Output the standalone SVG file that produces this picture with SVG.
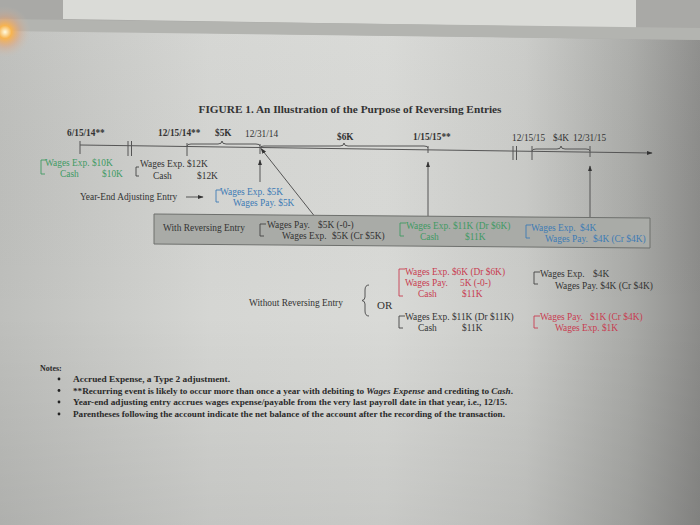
<svg xmlns="http://www.w3.org/2000/svg" width="700" height="525" viewBox="0 0 700 525">
<defs>
<linearGradient id="pageH" x1="0" y1="0" x2="1" y2="0">
<stop offset="0" stop-color="#bebfbc"/>
<stop offset="0.3" stop-color="#d5d6d3"/>
<stop offset="0.55" stop-color="#d9dad7"/>
<stop offset="0.75" stop-color="#cacbc8"/>
<stop offset="0.9" stop-color="#aaaba8"/>
<stop offset="1" stop-color="#8c8c8a"/>
</linearGradient>
<linearGradient id="pageV" x1="0" y1="0" x2="0" y2="1">
<stop offset="0" stop-color="#ffffff" stop-opacity="0.05"/>
<stop offset="0.6" stop-color="#000000" stop-opacity="0"/>
<stop offset="1" stop-color="#000000" stop-opacity="0.08"/>
</linearGradient>
<radialGradient id="glow" cx="0.5" cy="0.5" r="0.5">
<stop offset="0" stop-color="#fffbe0"/>
<stop offset="0.25" stop-color="#f7b450"/>
<stop offset="0.6" stop-color="#e8a070" stop-opacity="0.35"/>
<stop offset="1" stop-color="#d0c0b0" stop-opacity="0"/>
</radialGradient>
<marker id="ah" viewBox="0 0 10 7" refX="9" refY="3.5" markerWidth="6" markerHeight="4.2" markerUnits="userSpaceOnUse" orient="auto">
<path d="M0,0 L10,3.5 L0,7 z" fill="#333"/>
</marker>
<style>
text{font-family:"Liberation Serif","Times New Roman",serif;fill:#333;font-size:9.4px}
.b{font-weight:bold}
.t{font-size:9.3px}
.g{fill:#3f9a63}
.bl{fill:#3d7bb5}
.r{fill:#c83c50}
.ln{stroke:#555;stroke-width:1;fill:none}
.br{fill:none;stroke-width:0.9}
.brk{stroke:#444}
.brg{stroke:#3f9a63}
.brb{stroke:#3d7bb5}
.brr{stroke:#c83c50}
.note{font-size:8px;font-weight:bold;fill:#2a2a2a}
</style>
</defs>

<!-- background photo -->
<rect x="0" y="0" width="700" height="525" fill="url(#pageH)"/>
<rect x="0" y="0" width="700" height="525" fill="url(#pageV)"/>
<polygon points="0,0 700,0 700,40 0,30" fill="#a9a9a6"/>
<polygon points="63,0 636,0 636,28 63,19" fill="#dadbd7"/>
<polygon points="0,19 700,28 700,40 0,31" fill="#b3b4b0"/>
<circle cx="5" cy="32" r="26" fill="url(#glow)"/>

<text x="350" y="113" text-anchor="middle" class="b" style="font-size:10.5px" textLength="303" lengthAdjust="spacingAndGlyphs">FIGURE 1. An Illustration of the Purpose of Reversing Entries</text>

<!-- connectors / timeline -->
<g id="connectors">
<line class="ln" x1="80" y1="145" x2="652" y2="153" marker-end="url(#ah)"/>
<line class="ln" x1="80" y1="141" x2="80" y2="154"/>
<line class="ln" x1="128" y1="141" x2="128" y2="156"/>
<line class="ln" x1="131.5" y1="141" x2="131.5" y2="156"/>
<line class="ln" x1="187" y1="143" x2="187" y2="156"/>
<line class="ln" x1="260" y1="144" x2="260" y2="154"/>
<line class="ln" x1="428" y1="146" x2="428" y2="153"/>
<line class="ln" x1="513" y1="146" x2="513" y2="160"/>
<line class="ln" x1="516.5" y1="146" x2="516.5" y2="160"/>
<line class="ln" x1="532" y1="146" x2="532" y2="160"/>
<line class="ln" x1="590" y1="146" x2="590" y2="157"/>
<path class="ln" d="M187,146 Q187,144 191,144 L218,144 Q222,144 222,141 Q222,144 226,144 L256,144 Q260,144 260,146"/>
<path class="ln" d="M260,148 Q260,146 264,146 L340,146 Q344,146 344,143 Q344,146 348,146 L424,146 Q428,146 428,148"/>
<path class="ln" d="M532,151 Q532,149 536,149 L557,149 Q561,149 561,146 Q561,149 565,149 L586,149 Q590,149 590,151"/>
<line class="ln" x1="260" y1="182" x2="260" y2="160" marker-end="url(#ah)"/>
<line class="ln" x1="428" y1="216" x2="428" y2="162" marker-end="url(#ah)"/>
<line class="ln" x1="590" y1="217.5" x2="590" y2="166" marker-end="url(#ah)"/>
<line class="ln" x1="314" y1="215.5" x2="261" y2="148.5" marker-end="url(#ah)"/>
<line class="ln" x1="186" y1="197" x2="203" y2="197" marker-end="url(#ah)"/>
</g>

<g id="timeline-labels">
<text x="67" y="136" class="b t">6/15/14**</text>
<text x="158" y="136" class="b t">12/15/14**</text>
<text x="215" y="136" class="b t">$5K</text>
<text x="245" y="137" class="t">12/31/14</text>
<text x="337" y="140" class="b t">$6K</text>
<text x="413" y="140" class="b t">1/15/15**</text>
<text x="512" y="141" class="t">12/15/15</text>
<text x="553" y="141" class="t">$4K</text>
<text x="573" y="141" class="t">12/31/15</text>
</g>

<g id="entry-0615">
<path class="br brg" d="M46,160 L41,160 L41,174 L45,174"/>
<text x="45" y="166" class="g">Wages Exp. $10K</text>
<text x="60" y="177" class="g">Cash</text>
<text x="102" y="177" class="g">$10K</text>
</g>

<g id="entry-1215">
<path class="br brk" d="M139,167 L136,167 L136,176 L139,176"/>
<text x="140" y="167">Wages Exp. $12K</text>
<text x="153" y="179">Cash</text>
<text x="197" y="179">$12K</text>
</g>

<g id="year-end">
<text x="80" y="200">Year-End Adjusting Entry</text>
<path class="br brb" d="M221,190 L216,190 L216,202 L219,202"/>
<text x="220" y="195" class="bl">Wages Exp. $5K</text>
<text x="233" y="206" class="bl">Wages Pay.  $5K</text>
</g>

<g id="with-reversing">
<polygon points="154,214 650,218 650,248 154,244" fill="#a9aba7" stroke="#6e706d" stroke-width="1"/>
<text x="163" y="231">With Reversing Entry</text>
<path class="br brk" d="M266,224 L260,224 L260,236 L264,236"/>
<text x="267" y="228">Wages Pay.</text>
<text x="318" y="228">$5K (-0-)</text>
<text x="282" y="239">Wages Exp.</text>
<text x="332" y="239">$5K (Cr $5K)</text>
<path class="br brg" d="M406,223 L400,223 L400,236 L404,236"/>
<text x="406" y="229" class="g">Wages Exp. $11K (Dr $6K)</text>
<text x="420" y="240" class="g">Cash</text>
<text x="465" y="240" class="g">$11K</text>
<path class="br brb" d="M531,225 L526,225 L526,238 L530,238"/>
<text x="531" y="231" class="bl">Wages Exp.</text>
<text x="580" y="231" class="bl">$4K</text>
<text x="545" y="242" class="bl">Wages Pay.</text>
<text x="593" y="242" class="bl">$4K (Cr $4K)</text>
</g>

<g id="without-reversing">
<text x="249" y="306">Without Reversing Entry</text>
<path class="ln" d="M369,285 Q365,285 365,290 L365,297 Q365,300 362,300.5 Q365,301 365,304 L365,311 Q365,316 369,316"/>
<text x="377" y="309" style="font-size:11px">OR</text>
<path class="br brr" d="M405,269 L399,269 L399,296 L403,296"/>
<text x="405" y="275" class="r">Wages Exp. $6K (Dr $6K)</text>
<text x="405" y="286" class="r">Wages Pay.</text>
<text x="460" y="286" class="r">5K (-0-)</text>
<text x="418" y="297" class="r">Cash</text>
<text x="462" y="297" class="r">$11K</text>
<path class="br brk" d="M540,272 L534,272 L534,284 L538,284"/>
<text x="540" y="277">Wages Exp.</text>
<text x="593" y="277">$4K</text>
<text x="555" y="289">Wages Pay. $4K (Cr $4K)</text>
<path class="br brk" d="M405,316 L399,316 L399,328 L403,328"/>
<text x="405" y="320">Wages Exp. $11K (Dr $11K)</text>
<text x="418" y="331">Cash</text>
<text x="462" y="331">$11K</text>
<path class="br brr" d="M540,316 L534,316 L534,328 L538,328"/>
<text x="540" y="320" class="r">Wages Pay.</text>
<text x="590" y="320" class="r">$1K (Cr $4K)</text>
<text x="555" y="331" class="r">Wages Exp. $1K</text>
</g>

<g id="notes">
<text x="40" y="371" class="note">Notes:</text>
<circle cx="59" cy="379" r="1.4" fill="#222"/>
<circle cx="59" cy="390.5" r="1.4" fill="#222"/>
<circle cx="59" cy="402" r="1.4" fill="#222"/>
<circle cx="59" cy="414" r="1.4" fill="#222"/>
<text x="73" y="382" class="note" textLength="157" lengthAdjust="spacingAndGlyphs">Accrued Expense, a Type 2 adjustment.</text>
<text x="73" y="393.5" class="note" textLength="440" lengthAdjust="spacingAndGlyphs">**Recurring event is likely to occur more than once a year with debiting to <tspan font-style="italic">Wages Expense</tspan> and crediting to <tspan font-style="italic">Cash</tspan>.</text>
<text x="73" y="405" class="note" textLength="434" lengthAdjust="spacingAndGlyphs">Year-end adjusting entry accrues wages expense/payable from the very last payroll date in that year, i.e., 12/15.</text>
<text x="73" y="417" class="note" textLength="432" lengthAdjust="spacingAndGlyphs">Parentheses following the account indicate the net balance of the account after the recording of the transaction.</text>
</g>
</svg>
